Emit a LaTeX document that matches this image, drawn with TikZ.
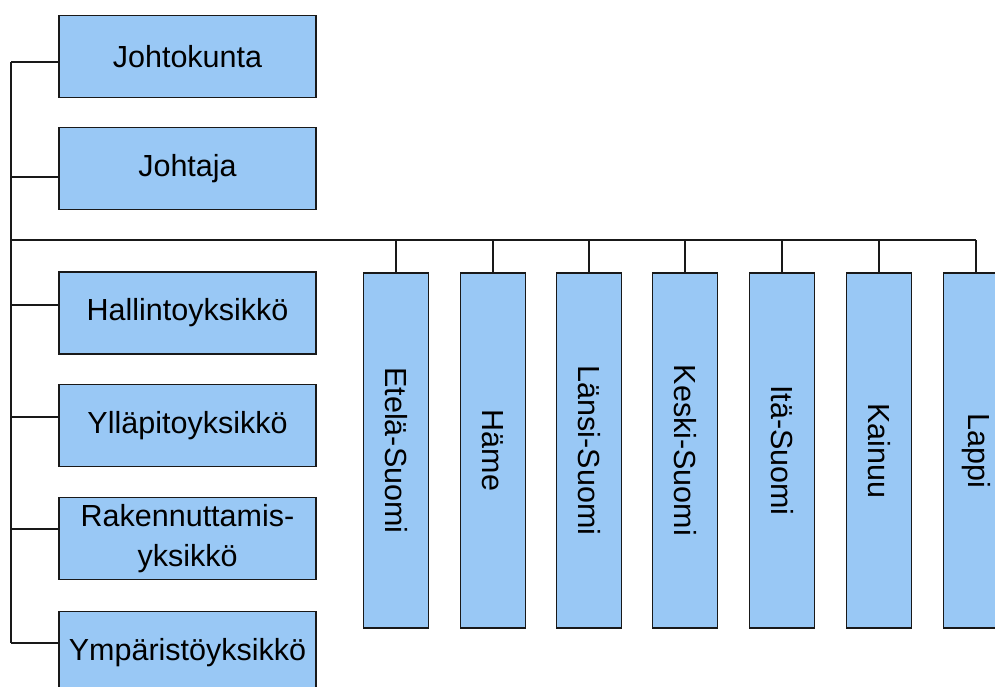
\documentclass[tikz,border=0pt]{standalone}
\usepackage{fontspec}
\usepackage{graphicx}
\setmainfont{Liberation Sans}
\definecolor{unitfill}{RGB}{153,200,245}
\definecolor{edge}{RGB}{25,25,25}
\begin{document}
\begin{tikzpicture}[x=1pt,y=-1pt,
  unitbox/.style={draw=edge, line width=1.8pt, fill=unitfill, rectangle,
    minimum width=257pt, minimum height=82pt, inner sep=0pt,
    align=center, font=\fontsize{30.5}{40}\selectfont},
  regionbox/.style={draw=edge, line width=1.8pt, fill=unitfill, rectangle,
    minimum width=65pt, minimum height=355pt, inner sep=0pt,
    font=\fontsize{30.5}{34}\selectfont},
  link/.style={draw=edge, line width=1.5pt}]
\clip (0,0) rectangle (995,686);
\fill[white] (0,0) rectangle (995,686);

% left column of units
\node[unitbox] (jk) at (187.5,56.5) {Johtokunta};
\node[unitbox] (jt) at (187.5,168.5) {Johtaja};
\node[unitbox] (ha) at (187.5,313) {Hallintoyksikkö};
\node[unitbox] (yl) at (187.5,425.5) {Ylläpitoyksikkö};
\node[unitbox] (ra) at (187.5,538.5) {Rakennuttamis-\\yksikkö};
\node[unitbox] (ym) at (187.5,652.5) {Ympäristöyksikkö};

% regional offices
\node[regionbox] (es) at (396,450.5) {\rotatebox{-90}{Etelä-Suomi}};
\node[regionbox] (hm) at (493,450.5) {\rotatebox{-90}{Häme}};
\node[regionbox] (ls) at (589,450.5) {\rotatebox{-90}{Länsi-Suomi}};
\node[regionbox] (ks) at (685,450.5) {\rotatebox{-90}{Keski-Suomi}};
\node[regionbox] (is) at (782,450.5) {\rotatebox{-90}{Itä-Suomi}};
\node[regionbox] (ka) at (879,450.5) {\rotatebox{-90}{Kainuu}};
\node[regionbox] (la) at (976,450.5) {\rotatebox{-90}{Lappi}};

% trunk and bus
\coordinate (ttop) at (11,62);
\coordinate (tbot) at (11,643);
\coordinate (busL) at (11,240);
\coordinate (busR) at (976,240);
\coordinate (t1) at (11,62);
\coordinate (t2) at (11,177);
\coordinate (t3) at (11,305);
\coordinate (t4) at (11,417);
\coordinate (t5) at (11,529);
\coordinate (t6) at (11,643);

\draw[link] (ttop) -- (tbot);
\draw[link] (busL) -- (busR);

\draw[link] (t1) -- (t1 -| jk.west);
\draw[link] (t2) -- (t2 -| jt.west);
\draw[link] (t3) -- (t3 -| ha.west);
\draw[link] (t4) -- (t4 -| yl.west);
\draw[link] (t5) -- (t5 -| ra.west);
\draw[link] (t6) -- (t6 -| ym.west);

\foreach \r in {es,hm,ls,ks,is,ka,la}
  \draw[link] (\r.north) -- (\r.north |- busL);
\end{tikzpicture}
\end{document}
